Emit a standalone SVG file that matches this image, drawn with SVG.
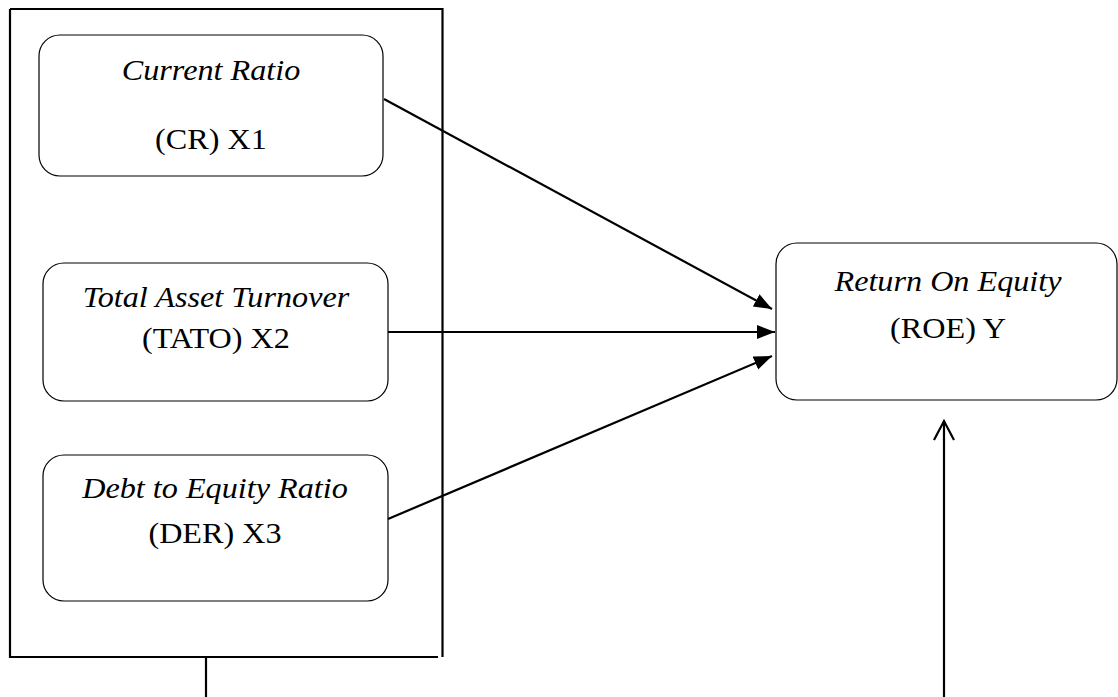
<svg xmlns="http://www.w3.org/2000/svg" width="1118" height="697" viewBox="0 0 1118 697">
<style>
.box{fill:#fff;stroke:#000;stroke-width:1.2}
.t{font-family:"Liberation Serif","Times New Roman",serif;font-size:28.5px;text-anchor:middle;fill:#000}
.i{font-style:italic}
.c{stroke:#000;stroke-width:2.2;fill:none}
</style>
<defs>
<marker id="ah" viewBox="0 0 18 16" refX="18" refY="8" markerWidth="18" markerHeight="16" markerUnits="userSpaceOnUse" orient="auto">
<path d="M0,1 L18,8 L0,15 Z" fill="#000"/>
</marker>
</defs>
<g id="frame">
<path d="M10,9 H442.5 V657" class="c"/>
<path d="M10,9 V657 H438" class="c"/>
</g>
<g id="node-cr">
<rect class="box" x="39" y="35" width="344" height="141" rx="21"/>
<text class="t i" transform="translate(211,80) scale(1.13,1)">Current Ratio</text>
<text class="t" transform="translate(211,149) scale(1.13,1)">(CR) X1</text>
</g>
<g id="node-tato">
<rect class="box" x="43" y="263" width="345" height="138" rx="21"/>
<text class="t i" transform="translate(216,307) scale(1.13,1)">Total Asset Turnover</text>
<text class="t" transform="translate(216,348) scale(1.13,1)">(TATO) X2</text>
</g>
<g id="node-der">
<rect class="box" x="43" y="455" width="345" height="146" rx="21"/>
<text class="t i" transform="translate(215,498) scale(1.13,1)">Debt to Equity Ratio</text>
<text class="t" transform="translate(215,543) scale(1.13,1)">(DER) X3</text>
</g>
<g id="node-roe">
<rect class="box" x="776" y="243" width="341" height="157" rx="21"/>
<text class="t i" transform="translate(948,291) scale(1.13,1)">Return On Equity</text>
<text class="t" transform="translate(948,338) scale(1.13,1)">(ROE) Y</text>
</g>
<g id="connectors">
<line class="c" x1="384" y1="99" x2="772" y2="309" marker-end="url(#ah)"/>
<line class="c" x1="388" y1="332" x2="775" y2="332" marker-end="url(#ah)"/>
<line class="c" x1="388" y1="519" x2="772" y2="356" marker-end="url(#ah)"/>
<line class="c" x1="206" y1="657" x2="206" y2="697"/>
<line class="c" x1="944" y1="697" x2="944" y2="421"/>
<path class="c" d="M934,440 L944,421 L954,440"/>
</g>
</svg>
